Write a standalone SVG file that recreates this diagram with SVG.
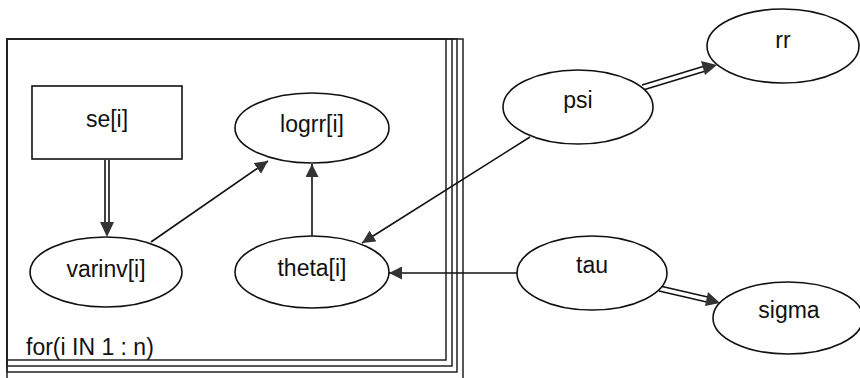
<svg xmlns="http://www.w3.org/2000/svg" width="860" height="378" viewBox="0 0 860 378">
<style>
.n{fill:#fff;stroke:#111;stroke-width:1.6}
.t{font-family:"Liberation Sans",Arial,sans-serif;font-size:23px;fill:#111;text-anchor:middle}
.e{stroke:#111;stroke-width:1.6;fill:none}
.p{fill:none;stroke:#222;stroke-width:1.5}
</style>
<defs>
<marker id="a" viewBox="0 0 10 10" refX="10" refY="5" markerWidth="13" markerHeight="13" markerUnits="userSpaceOnUse" orient="auto"><path d="M0,0L10,5L0,10z" fill="#333"/></marker>
<marker id="b" viewBox="0 0 10 10" refX="10" refY="5" markerWidth="15" markerHeight="15" markerUnits="userSpaceOnUse" orient="auto"><path d="M0,0L10,5L0,10z" fill="#333"/></marker>
</defs>
<rect width="860" height="378" fill="#fff"/>
<g id="plate">
<rect class="p" x="7" y="39" width="439" height="321"/>
<rect class="p" x="7" y="39" width="445" height="327"/>
<rect class="p" x="7" y="39" width="450" height="333"/>
<rect class="p" x="7" y="39" width="456" height="340"/>
<text class="t" x="26" y="355" style="text-anchor:start">for(i IN 1 : n)</text>
</g>
<g id="connectors">
<path class="e" d="M105,160V226M109,160V226"/>
<path d="M107,237L100,222H114z" fill="#333"/>
<line class="e" x1="151" y1="242" x2="268" y2="161" marker-end="url(#a)"/>
<line class="e" x1="312" y1="237" x2="312" y2="164" marker-end="url(#a)"/>
<line class="e" x1="530" y1="137" x2="362" y2="243" marker-end="url(#a)"/>
<line class="e" x1="517" y1="273" x2="389" y2="273" marker-end="url(#a)"/>
<path class="e" d="M642,85L708,65M643,90L709,70"/>
<path d="M717,65L701,61L705,75z" fill="#333"/>
<path class="e" d="M660,286L712,298M659,291L711,303"/>
<path d="M720,303L708,292L705,306z" fill="#333"/>
</g>
<g id="se"><rect class="n" x="32" y="86" width="150" height="73"/><text class="t" x="107" y="127">se[i]</text></g>
<g id="logrr"><ellipse class="n" cx="312" cy="128" rx="77" ry="35"/><text class="t" x="312" y="132">logrr[i]</text></g>
<g id="varinv"><ellipse class="n" cx="106" cy="272" rx="76" ry="35"/><text class="t" x="106" y="277">varinv[i]</text></g>
<g id="theta"><ellipse class="n" cx="312" cy="272" rx="77" ry="36"/><text class="t" x="312" y="276">theta[i]</text></g>
<g id="psi"><ellipse class="n" cx="578" cy="107" rx="75" ry="37"/><text class="t" x="578" y="108">psi</text></g>
<g id="rr"><ellipse class="n" cx="783" cy="46" rx="76" ry="37"/><text class="t" x="783" y="48">rr</text></g>
<g id="tau"><ellipse class="n" cx="592" cy="273" rx="75" ry="37"/><text class="t" x="592" y="273">tau</text></g>
<g id="sigma"><ellipse class="n" cx="788" cy="318" rx="75" ry="36"/><text class="t" x="789" y="318">sigma</text></g>
</svg>
